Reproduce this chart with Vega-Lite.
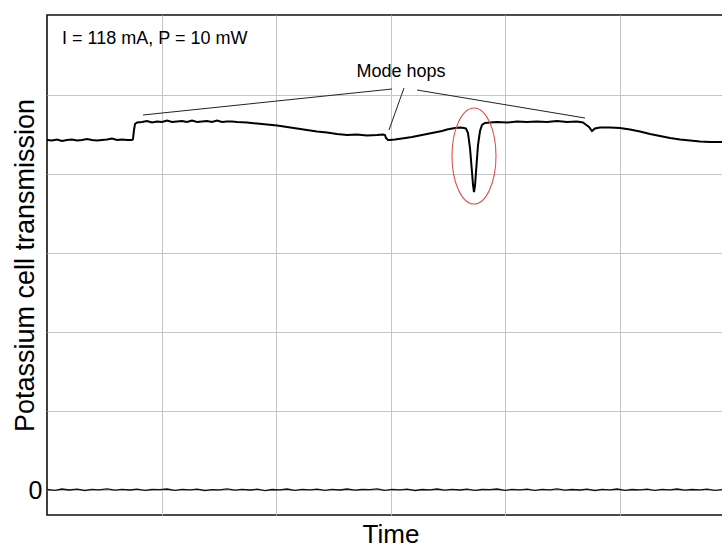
{
  "$schema": "https://vega.github.io/schema/vega-lite/v6.json",
  "width": 676,
  "height": 500,
  "autosize": {"type": "none"},
  "padding": {"left": 47, "top": 15, "right": 0, "bottom": 32},
  "config": {
    "font": "Liberation Sans",
    "view": {"stroke": "#111111", "strokeWidth": 1.6},
    "background": "white"
  },
  "datasets": {
    "trace": [
      {"t": 0, "v": 350}, {"t": 5, "v": 349.5}, {"t": 10, "v": 350.5}, {"t": 15, "v": 349}, {"t": 20, "v": 350}, {"t": 25, "v": 350.5}, {"t": 30, "v": 349.5}, {"t": 35, "v": 350}, {"t": 40, "v": 351}, {"t": 45, "v": 350}, {"t": 50, "v": 349.5}, {"t": 55, "v": 350}, {"t": 60, "v": 350.5}, {"t": 65, "v": 351.5}, {"t": 70, "v": 350}, {"t": 75, "v": 350.5}, {"t": 80, "v": 350}, {"t": 85, "v": 350},
      {"t": 86, "v": 351}, {"t": 87, "v": 360}, {"t": 88, "v": 366}, {"t": 90, "v": 367.5},
      {"t": 95, "v": 368}, {"t": 100, "v": 369}, {"t": 105, "v": 367.5}, {"t": 110, "v": 368.5}, {"t": 115, "v": 368}, {"t": 120, "v": 369.5}, {"t": 125, "v": 368}, {"t": 130, "v": 368.5}, {"t": 135, "v": 369}, {"t": 140, "v": 368}, {"t": 145, "v": 369.5}, {"t": 150, "v": 368}, {"t": 155, "v": 368.5}, {"t": 160, "v": 369}, {"t": 165, "v": 368}, {"t": 170, "v": 369.5}, {"t": 175, "v": 368}, {"t": 180, "v": 368.5}, {"t": 185, "v": 368.5}, {"t": 190, "v": 368},
      {"t": 200, "v": 367.5}, {"t": 210, "v": 366.5}, {"t": 220, "v": 365.5}, {"t": 230, "v": 364.5}, {"t": 240, "v": 363}, {"t": 250, "v": 361.5}, {"t": 260, "v": 360}, {"t": 270, "v": 358.5}, {"t": 280, "v": 357.5}, {"t": 290, "v": 356}, {"t": 300, "v": 355}, {"t": 310, "v": 355.5}, {"t": 320, "v": 354.5}, {"t": 330, "v": 355}, {"t": 336, "v": 355.5}, {"t": 338, "v": 355},
      {"t": 339, "v": 352}, {"t": 341, "v": 350}, {"t": 343, "v": 350}, {"t": 348, "v": 350.5}, {"t": 355, "v": 351.5}, {"t": 365, "v": 353}, {"t": 375, "v": 355}, {"t": 385, "v": 357}, {"t": 395, "v": 359}, {"t": 400, "v": 360.5}, {"t": 408, "v": 362}, {"t": 413, "v": 362.5}, {"t": 417, "v": 362},
      {"t": 419, "v": 361.5}, {"t": 421, "v": 357}, {"t": 423, "v": 342}, {"t": 425, "v": 318}, {"t": 426, "v": 305}, {"t": 427, "v": 298}, {"t": 428, "v": 304}, {"t": 429, "v": 318}, {"t": 431, "v": 345}, {"t": 433, "v": 359}, {"t": 435, "v": 365}, {"t": 438, "v": 367},
      {"t": 443, "v": 367.5}, {"t": 450, "v": 368}, {"t": 460, "v": 367.5}, {"t": 470, "v": 368.5}, {"t": 480, "v": 368}, {"t": 490, "v": 368.5}, {"t": 500, "v": 368}, {"t": 510, "v": 369}, {"t": 520, "v": 368}, {"t": 530, "v": 368.5}, {"t": 536, "v": 367.5},
      {"t": 538, "v": 366}, {"t": 542, "v": 363}, {"t": 545, "v": 359}, {"t": 548, "v": 361.5}, {"t": 553, "v": 362.5}, {"t": 563, "v": 362.5}, {"t": 573, "v": 362}, {"t": 583, "v": 360.5}, {"t": 593, "v": 358.5}, {"t": 603, "v": 356}, {"t": 613, "v": 354}, {"t": 623, "v": 352}, {"t": 633, "v": 350.5}, {"t": 643, "v": 349.5}, {"t": 653, "v": 348.5}, {"t": 663, "v": 348}, {"t": 676, "v": 348}
    ],
    "zero": [
      {"t": 0, "v": 0.5}, {"t": 8, "v": -0.3}, {"t": 15, "v": 1}, {"t": 22, "v": 0}, {"t": 30, "v": 0.8}, {"t": 38, "v": -0.5}, {"t": 45, "v": 0.6}, {"t": 52, "v": 0.2}, {"t": 60, "v": 1.1}, {"t": 68, "v": -0.2}, {"t": 75, "v": 0.7}, {"t": 83, "v": 0}, {"t": 90, "v": 0.9}, {"t": 98, "v": -0.4}, {"t": 105, "v": 0.5}, {"t": 113, "v": 0.3}, {"t": 120, "v": 1}, {"t": 128, "v": -0.3}, {"t": 135, "v": 0.6}, {"t": 143, "v": 0.1}, {"t": 150, "v": 0.9}, {"t": 158, "v": -0.5}, {"t": 165, "v": 0.4}, {"t": 173, "v": 0.2}, {"t": 180, "v": 1.2}, {"t": 188, "v": -0.2}, {"t": 195, "v": 0.6}, {"t": 203, "v": 0}, {"t": 210, "v": 0.8}, {"t": 218, "v": -0.6}, {"t": 225, "v": 0.5}, {"t": 233, "v": 0.1}, {"t": 240, "v": 1}, {"t": 248, "v": -0.3}, {"t": 255, "v": 0.7}, {"t": 263, "v": 0.2}, {"t": 270, "v": 0.9}, {"t": 278, "v": -0.4}, {"t": 285, "v": 0.6}, {"t": 293, "v": 0}, {"t": 300, "v": 1}, {"t": 308, "v": -0.2}, {"t": 315, "v": 0.5}, {"t": 323, "v": 0.3}, {"t": 330, "v": 1.1}, {"t": 338, "v": -0.3}, {"t": 345, "v": 0.6}, {"t": 353, "v": 0.1}, {"t": 360, "v": 0.8}, {"t": 368, "v": -0.5}, {"t": 375, "v": 0.5}, {"t": 383, "v": 0.2}, {"t": 390, "v": 1}, {"t": 398, "v": -0.2}, {"t": 405, "v": 0.6}, {"t": 413, "v": 0}, {"t": 420, "v": 0.9}, {"t": 428, "v": -0.4}, {"t": 435, "v": 0.5}, {"t": 443, "v": 0.3}, {"t": 450, "v": 1}, {"t": 458, "v": -0.3}, {"t": 465, "v": 0.7}, {"t": 473, "v": 0.1}, {"t": 480, "v": 0.8}, {"t": 488, "v": -0.4}, {"t": 495, "v": 0.6}, {"t": 503, "v": 0.2}, {"t": 510, "v": 1.1}, {"t": 518, "v": -0.2}, {"t": 525, "v": 0.5}, {"t": 533, "v": 0}, {"t": 540, "v": 0.9}, {"t": 548, "v": -0.5}, {"t": 555, "v": 0.6}, {"t": 563, "v": 0.2}, {"t": 570, "v": 1}, {"t": 578, "v": -0.3}, {"t": 585, "v": 0.5}, {"t": 593, "v": 0.1}, {"t": 600, "v": 0.8}, {"t": 608, "v": -0.4}, {"t": 615, "v": 0.7}, {"t": 623, "v": 0.2}, {"t": 630, "v": 1}, {"t": 638, "v": -0.2}, {"t": 645, "v": 0.5}, {"t": 653, "v": 0.1}, {"t": 660, "v": 0.9}, {"t": 668, "v": -0.3}, {"t": 676, "v": 0.5}
    ],
    "pointers": [
      {"t": 96, "v": 375, "t2": 345, "v2": 401},
      {"t": 357, "v": 402, "t2": 342, "v2": 360},
      {"t": 370, "v": 400, "t2": 538, "v2": 372}
    ],
    "condition": [{"t": 15, "v": 446, "label": "I = 118 mA, P = 10 mW"}],
    "hops": [{"t": 354, "v": 413, "label": "Mode hops"}],
    "circle": [{"t": 427, "v": 334}]
  },
  "encoding": {
    "x": {
      "field": "t", "type": "quantitative",
      "scale": {"domain": [0, 676], "nice": false, "zero": false},
      "axis": {
        "values": [114.5, 229, 343.5, 458, 572.5],
        "labels": false, "ticks": false, "domain": false,
        "grid": true, "gridColor": "#c4c4c4", "gridWidth": 1,
        "title": "Time", "titleFontSize": 26, "titleFontWeight": "normal", "titleColor": "#000000",
        "titleX": 343.5, "titleY": 27, "titleAlign": "center", "titleBaseline": "alphabetic"
      }
    },
    "y": {
      "field": "v", "type": "quantitative",
      "scale": {"domain": [-25, 475], "nice": false, "zero": false},
      "axis": {
        "values": [0, 79, 158, 237, 316, 395],
        "labelExpr": "datum.value == 0 ? '0' : ''",
        "labelFontSize": 25, "labelColor": "#000000", "labelPadding": 5,
        "ticks": false, "domain": false,
        "grid": true, "gridColor": "#c4c4c4", "gridWidth": 1,
        "title": "Potassium cell transmission", "titleFontSize": 27, "titleFontWeight": "normal", "titleColor": "#000000",
        "titleX": -13.5, "titleY": 250, "titleAngle": -90, "titleAlign": "center", "titleBaseline": "alphabetic"
      }
    }
  },
  "layer": [
    {
      "data": {"name": "zero"},
      "mark": {"type": "line", "color": "#111111", "strokeWidth": 1.3}
    },
    {
      "data": {"name": "trace"},
      "mark": {"type": "line", "color": "#000000", "strokeWidth": 2}
    },
    {
      "data": {"name": "pointers"},
      "mark": {"type": "rule", "color": "#222222", "strokeWidth": 1},
      "encoding": {
        "x2": {"field": "t2"},
        "y2": {"field": "v2"}
      }
    },
    {
      "data": {"name": "condition"},
      "mark": {"type": "text", "fontSize": 18, "color": "#000000", "baseline": "alphabetic", "align": "left"},
      "encoding": {"text": {"field": "label"}}
    },
    {
      "data": {"name": "hops"},
      "mark": {"type": "text", "fontSize": 18, "color": "#000000", "baseline": "alphabetic", "align": "center"},
      "encoding": {"text": {"field": "label"}}
    },
    {
      "data": {"name": "circle"},
      "mark": {
        "type": "point",
        "shape": "M -0.458 0 A 0.458 1 0 1 0 0.458 0 A 0.458 1 0 1 0 -0.458 0 Z",
        "size": 9216,
        "filled": false,
        "stroke": "#e0524f",
        "strokeWidth": 1.1,
        "opacity": 1
      }
    }
  ]
}
